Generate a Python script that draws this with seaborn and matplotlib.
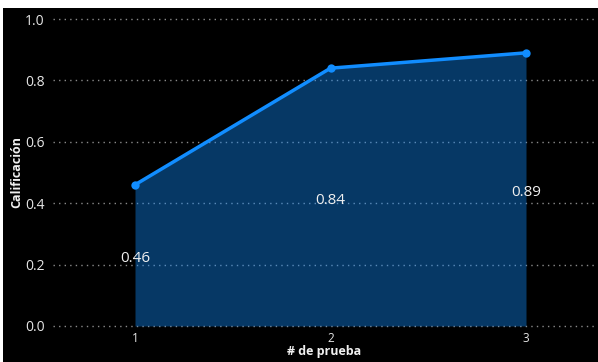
import matplotlib
matplotlib.use("Agg")
import matplotlib.pyplot as plt
import seaborn as sns
import pandas as pd
from matplotlib.patches import Rectangle

pruebas = [1, 2, 3]
calificacion = [0.46, 0.84, 0.89]
etiquetas = ["0.46", "0.84", "0.89"]
yticks = [0.0, 0.2, 0.4, 0.6, 0.8, 1.0]

df = pd.DataFrame({"# de prueba": pruebas, "Calificación": calificacion})

sns.set_theme(style="dark")
plt.rcParams["font.family"] = ["Open Sans", "DejaVu Sans"]

fig = plt.figure(figsize=(5.98, 3.62), dpi=100, facecolor="black")
fig.patches.append(Rectangle((0, 1 - 8 / 362), 1, 8 / 362, transform=fig.transFigure,
                             facecolor="white", edgecolor="none", zorder=-1))
fig.patches.append(Rectangle((0, 0), 3 / 598, 1, transform=fig.transFigure,
                             facecolor="white", edgecolor="none", zorder=-1))

ax = fig.add_axes([53 / 598, 1 - 327.5 / 362, 542 / 598, (327.5 - 16) / 362])
ax.set_facecolor("black")

blue = "#118DFF"
ax.fill_between(df["# de prueba"], df["Calificación"], 0, color=blue, alpha=0.4,
                linewidth=0, zorder=2)
sns.lineplot(data=df, x="# de prueba", y="Calificación", ax=ax, color=blue,
             linewidth=2.5, marker="o", markersize=6, markeredgewidth=0, zorder=3)

for x, y, t in zip(pruebas, calificacion, etiquetas):
    ax.text(x, y / 2 - 0.01, t, ha="center", va="center", color="#f0f0f0", fontsize=11, zorder=4)

ax.set_xlim(1 - 82 / 195.5, 3 + 69 / 195.5)
ax.set_ylim(-0.005, 1.01)
ax.set_xticks(pruebas)
ax.set_xticklabels([str(p) for p in pruebas])
ax.set_yticks(yticks)
ax.set_yticklabels([f"{v:.1f}" for v in yticks])
ax.tick_params(axis="y", colors="#e6e6e6", labelsize=10, length=0, pad=6)
ax.tick_params(axis="x", colors="#e6e6e6", labelsize=8.5, length=0, pad=3)
ax.grid(axis="y", color="#8a8a8a", linestyle=(0, (1, 3)), linewidth=1, zorder=1)
ax.grid(axis="x", visible=False)
ax.set_axisbelow(True)
for s in ax.spines.values():
    s.set_visible(False)

ax.set_xlabel("# de prueba", color="#f0f0f0", fontsize=9, fontweight="bold", labelpad=0)
ax.set_ylabel("Calificación", color="#f0f0f0", fontsize=9, fontweight="bold", labelpad=1)

fig.savefig("out.png", dpi=100, facecolor=fig.get_facecolor())
